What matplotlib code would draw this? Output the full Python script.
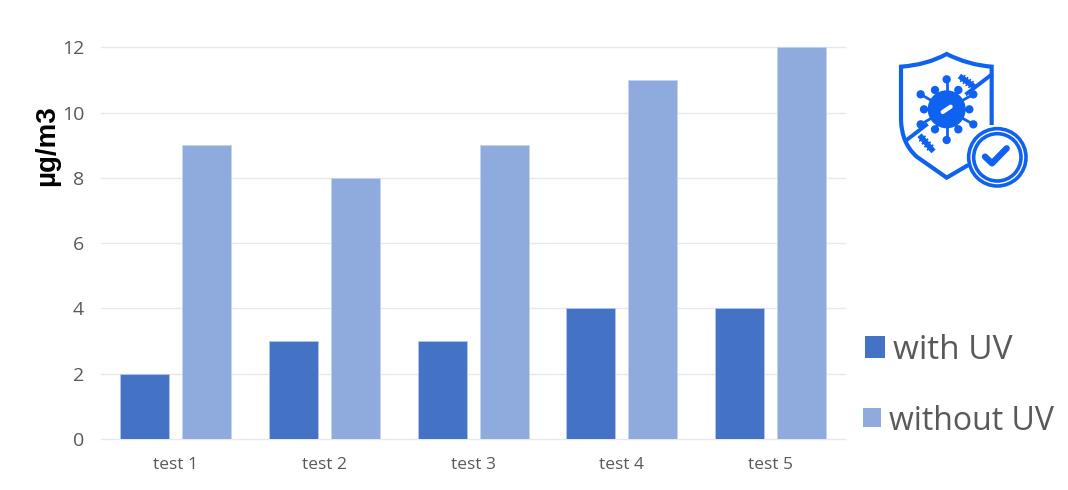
import matplotlib
matplotlib.use("Agg")
import matplotlib.pyplot as plt
from matplotlib.patches import Circle, Rectangle, PathPatch
from matplotlib.path import Path
import numpy as np

categories = ["test 1", "test 2", "test 3", "test 4", "test 5"]
with_uv = [2, 3, 3, 4, 4]
without_uv = [9, 8, 9, 11, 12]
series_names = ["with UV", "without UV"]
y_ticks = [0, 2, 4, 6, 8, 10, 12]

dark = "#4472C4"
light = "#8FAADC"
grey = "#595959"
icon_blue = "#0F62F0"

W, H = 1068, 490
plt.rcParams["font.family"] = ["Open Sans", "DejaVu Sans"]

fig = plt.figure(figsize=(W / 100, H / 100), dpi=100)
ax = fig.add_axes([100.8 / W, 1 - 439 / H, 744.5 / W, 391.7 / H])

x = np.arange(len(categories))
ax.bar(x - 0.208, with_uv, width=0.329, color=dark, edgecolor="#B4C7E7", linewidth=0.6, zorder=3)
ax.bar(x + 0.208, without_uv, width=0.329, color=light, edgecolor="#C5D3EC", linewidth=0.6, zorder=3)

ax.set_xlim(-0.5, 4.5)
ax.set_ylim(0, 12)
ax.set_xticks(x)
ax.set_xticklabels(categories, fontsize=12.5, color=grey)
ax.set_yticks(y_ticks)
ax.set_yticklabels(y_ticks, fontsize=14, color=grey)
ax.tick_params(axis="both", length=0)
ax.tick_params(axis="x", pad=13)
ax.tick_params(axis="y", pad=12)
ax.grid(axis="y", color="#E9E9E9", linewidth=1, zorder=0)
ax.set_axisbelow(True)
for s in ax.spines.values():
    s.set_visible(False)
for line in ax.get_ygridlines():
    line.set_clip_on(False)

fig.text(47 / W, 1 - 146 / H, "µg/m3", rotation=90, ha="center", va="center",
         fontsize=20, fontweight="bold", family="Liberation Sans", color="black")

# legend, placed by hand because the two rows do not line up
fig.add_artist(Rectangle((865 / W, 1 - 358 / H), 20 / W, 22 / H, transform=fig.transFigure,
                         facecolor=dark, edgecolor="none"))
fig.add_artist(Rectangle((863 / W, 1 - 427 / H), 18 / W, 19 / H, transform=fig.transFigure,
                         facecolor=light, edgecolor="none"))
fig.text(893 / W, 1 - 350 / H, series_names[0], fontsize=24, color=grey, va="center", ha="left")
fig.text(889 / W, 1 - 421 / H, series_names[1], fontsize=23, color=grey, va="center", ha="left")

# shield icon, drawn in the 3x zoom pixel space of its 160x160 box
icon = fig.add_axes([880 / W, 1 - 200 / H, 160 / W, 160 / H])
icon.set_xlim(0, 480)
icon.set_ylim(480, 0)
icon.axis("off")

verts = [(335, 255), (335, 80), (265, 75), (200, 42), (140, 75), (63, 80),
         (63, 240), (65, 310), (110, 350), (200, 413), (265, 375)]
codes = [Path.MOVETO, Path.LINETO, Path.CURVE3, Path.CURVE3, Path.CURVE3, Path.CURVE3,
         Path.LINETO, Path.CURVE3, Path.CURVE3, Path.LINETO, Path.LINETO]
icon.add_patch(PathPatch(Path(verts, codes), facecolor="none", edgecolor=icon_blue,
                         linewidth=3, joinstyle="miter"))
icon.plot([80, 333], [300, 105], color=icon_blue, linewidth=2.8)

# white halo so the diagonal breaks around the virus
icon.add_patch(Circle((200, 208), 72, facecolor="white", edgecolor="none", zorder=2))

balls = [(200, 118), (122, 163), (132, 208), (122, 253), (165, 150), (235, 150),
         (268, 208), (165, 268), (235, 268), (280, 253), (280, 163), (200, 300)]
for bx, by in balls:
    icon.plot([200, bx], [208, by], color=icon_blue, linewidth=2, zorder=3)
    icon.add_patch(Circle((bx, by), 12.5, facecolor=icon_blue, edgecolor="none", zorder=3))
icon.add_patch(Circle((200, 208), 57, facecolor=icon_blue, edgecolor="none", zorder=3))
icon.plot([188, 212], [216, 200], color="white", linewidth=3, solid_capstyle="round", zorder=4)

# small bacteria either side of the diagonal
for (x0, y0, x1, y1) in [(245, 113, 278, 137), (124, 292, 155, 328)]:
    icon.plot([x0, x1], [y0, y1], color=icon_blue, linewidth=4, zorder=3)
    d = np.array([y1 - y0, x0 - x1], dtype=float)
    d = d / np.hypot(*d) * 10
    for t in (0.1, 0.35, 0.6, 0.85):
        cx, cy = x0 + (x1 - x0) * t, y0 + (y1 - y0) * t
        icon.plot([cx - d[0], cx + d[0]], [cy - d[1], cy + d[1]], color=icon_blue, linewidth=1.2, zorder=3)

# check badge
icon.add_patch(Circle((352, 352), 86, facecolor="white", edgecolor=icon_blue, linewidth=2.6, zorder=5))
icon.add_patch(Circle((352, 352), 71, facecolor="white", edgecolor=icon_blue, linewidth=2.6, zorder=5))
icon.plot([315, 336, 380], [350, 370, 325], color=icon_blue, linewidth=4.6,
          solid_capstyle="round", solid_joinstyle="round", zorder=6)

fig.savefig("out.png", dpi=100)
